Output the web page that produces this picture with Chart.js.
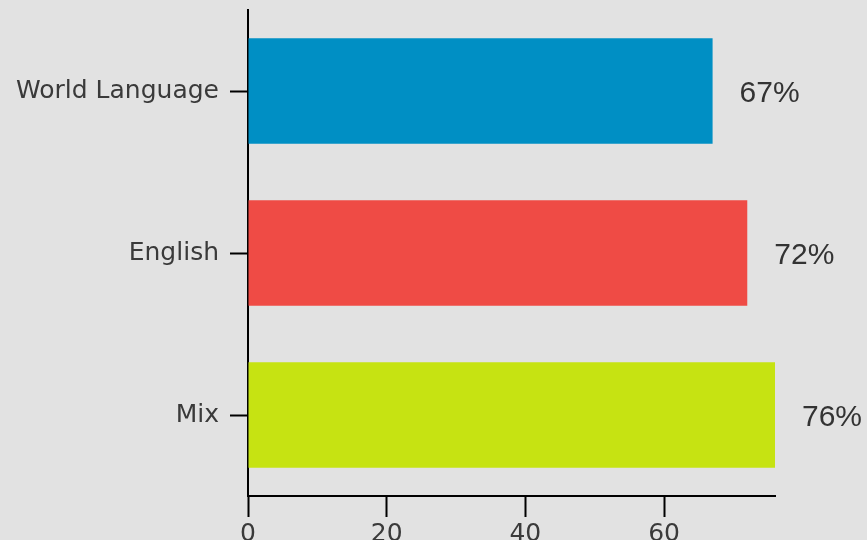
<!DOCTYPE html>
<html>
<head>
  <meta charset="utf-8">
  <title>Language Bar Chart</title>
  <script src="https://cdn.jsdelivr.net/npm/chart.js"></script>
  <style>
    html, body {
      margin: 0;
      padding: 0;
      background: #e2e2e2;
      overflow: hidden;
    }
    #myChart {
      display: block;
    }
  </style>
</head>
<body>
  <canvas id="myChart" width="867" height="540"></canvas>
  <script>
    const categories = ['World Language', 'English', 'Mix'];
    const percentages = [67, 72, 76];
    const barColors = ['#008fc4', '#ef4b45', '#c6e312'];
    const xTicks = [0, 20, 40, 60];

    // Draw the "67%" style labels next to each bar end
    const valueLabels = {
      id: 'valueLabels',
      afterDatasetsDraw(chart) {
        const ctx = chart.ctx;
        const meta = chart.getDatasetMeta(0);
        ctx.save();
        ctx.font = '30px "Liberation Sans", Arial, sans-serif';
        ctx.fillStyle = '#333333';
        ctx.textAlign = 'left';
        ctx.textBaseline = 'middle';
        meta.data.forEach((bar, i) => {
          ctx.fillText(percentages[i] + '%', bar.x + 27, bar.y + 3);
        });
        ctx.restore();
      }
    };

    const ctx = document.getElementById('myChart').getContext('2d');
    const chart = new Chart(ctx, {
      type: 'bar',
      data: {
        labels: categories,
        datasets: [{
          data: percentages,
          backgroundColor: barColors,
          borderWidth: 0,
          categoryPercentage: 1,
          barPercentage: 0.65
        }]
      },
      options: {
        indexAxis: 'y',
        responsive: false,
        animation: false,
        layout: {
          padding: { top: 10, right: 92, left: 0, bottom: 0 }
        },
        plugins: {
          legend: { display: false },
          tooltip: { enabled: false }
        },
        scales: {
          x: {
            min: 0,
            max: 76,
            afterBuildTicks: scale => {
              scale.ticks = xTicks.map(v => ({ value: v }));
            },
            afterFit: scale => {
              scale.height = 44;
              scale.paddingBottom = 0;
            },
            grid: {
              drawOnChartArea: false,
              drawTicks: true,
              tickLength: 21,
              tickWidth: 2,
              color: '#000000'
            },
            border: { display: true, color: '#000000', width: 2 },
            ticks: {
              padding: 2,
              color: '#3a3a3a',
              font: { family: '"DejaVu Sans", sans-serif', size: 25 }
            }
          },
          y: {
            afterFit: scale => {
              scale.width = 248;
              scale.paddingTop = 0;
              scale.paddingBottom = 0;
            },
            grid: {
              offset: false,
              drawOnChartArea: false,
              drawTicks: true,
              tickLength: 18,
              tickWidth: 2,
              color: '#000000'
            },
            border: { display: true, color: '#000000', width: 2 },
            ticks: {
              padding: 11,
              color: '#3a3a3a',
              font: { family: '"DejaVu Sans", sans-serif', size: 25 }
            }
          }
        }
      },
      plugins: [valueLabels]
    });
  </script>
</body>
</html>
